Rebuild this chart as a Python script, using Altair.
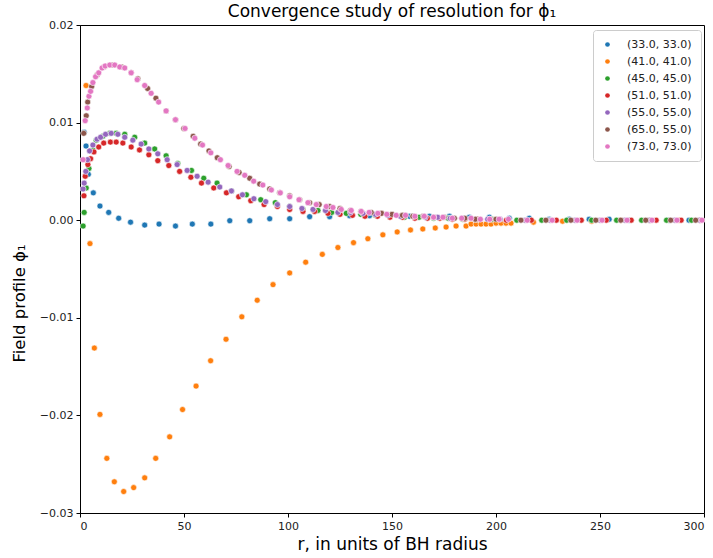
import altair as alt
import pandas as pd

# ---- data ----
series_names = ["(33.0, 33.0)", "(41.0, 41.0)", "(45.0, 45.0)", "(51.0, 51.0)",
                "(55.0, 55.0)", "(65.0, 55.0)", "(73.0, 73.0)"]
series_colors = ["#1f77b4", "#ff7f0e", "#2ca02c", "#d62728", "#9467bd", "#8c564b", "#e377c2"]

r_33 = [2.0, 2.9, 4.0, 6.4, 9.6, 13.8, 18.6, 24.3, 31.1, 38.0, 45.9, 54.0, 62.9, 72.0, 81.6, 91.2,
        100.8, 110.4, 120.0, 129.6, 139.2, 148.8, 158.4, 168.0, 177.6, 187.2, 196.8, 206.4, 216.0,
        225.6, 235.2, 244.8, 254.4, 264.0, 273.6, 283.2, 292.8]
v_33 = [0.0090, 0.0076, 0.0047, 0.0028, 0.00145, 0.0008, 0.0002, -0.0002, -0.0005, -0.0004, -0.0006,
        -0.0004, -0.0004, -0.00005, -0.00005, 0.00015, 0.00015, 0.00036, 0.00036, 0.00046, 0.00046,
        0.0004, 0.0004, 0.0004, 0.0004, 0.0003, 0.0003, 0.0002, 0.0002, 0.0001, 0.0001, 0.0001,
        0.0001, 0.0, 0.0, 0.0, 0.0]

r_41 = [2.9, 4.8, 6.9, 9.6, 12.9, 16.5, 21.0, 25.8, 31.1, 36.4, 43.1, 49.3, 55.8, 62.8, 70.2, 77.8,
        85.2, 92.8, 100.8, 108.5, 116.5, 124.0, 131.5, 138.4, 145.6, 152.5, 158.9, 164.8, 170.8,
        176.0, 180.8, 185.6, 188.0, 190.4, 192.8, 195.2, 197.6, 200.0, 202.4, 204.8, 207.2, 218.0,
        232.0, 246.0, 260.0, 274.0, 288.0]
v_41 = [0.0138, -0.0024, -0.0131, -0.0199, -0.0244, -0.0268, -0.0278, -0.0274, -0.0264, -0.0244,
        -0.0222, -0.0194, -0.0170, -0.0144, -0.0122, -0.0099, -0.0082, -0.0066, -0.0054, -0.0043,
        -0.0035, -0.0028, -0.0023, -0.0019, -0.0015, -0.0012, -0.0010, -0.0009, -0.0008, -0.0007,
        -0.0006, -0.0006, -0.0004, -0.0004, -0.0004, -0.0004, -0.0004, -0.0003, -0.0003, -0.0003,
        -0.0003, -0.0002, -0.0001, -0.0001, 0.0, 0.0, 0.0]

r_45 = [1.5, 2.0, 3.0, 4.3, 6.2, 7.8, 11.0, 14.3, 17.4, 21.5, 26.3, 31.1, 35.9, 41.4, 47.0, 53.6,
        59.5, 65.9, 72.8, 80.0, 86.9, 93.9, 100.8, 107.2, 114.4, 121.0, 128.0, 135.0, 142.0, 149.0,
        156.0, 163.0, 170.0, 177.0, 184.0, 191.0, 198.0, 210.0, 222.0, 234.0, 246.0, 258.0, 270.0,
        282.0, 294.0]
v_45 = [-0.0006, 0.0008, 0.0033, 0.0053, 0.0072, 0.0082, 0.0086, 0.0089, 0.0089, 0.0088, 0.0085,
        0.0079, 0.0073, 0.0066, 0.0058, 0.0051, 0.0043, 0.0038, 0.0030, 0.0026, 0.0021, 0.0018,
        0.0014, 0.0011, 0.0010, 0.0008, 0.0007, 0.0006, 0.0005, 0.0004, 0.0003, 0.0003, 0.0002,
        0.0002, 0.0001, 0.0001, 0.0001, 0.0, 0.0, 0.0, 0.0, 0.0, 0.0, 0.0, 0.0]

r_51 = [1.9, 2.5, 3.8, 5.1, 6.7, 9.0, 11.4, 14.6, 17.4, 20.6, 24.6, 28.6, 33.1, 37.4, 42.7, 47.9,
        53.3, 58.4, 64.3, 70.4, 76.3, 82.1, 88.5, 94.9, 100.8, 107.2, 112.8, 119.2, 125.0, 131.0,
        137.0, 143.0, 149.0, 155.0, 161.0, 167.0, 173.0, 179.0, 185.0, 191.0, 197.0, 205.0, 217.0,
        229.0, 241.0, 253.0, 265.0, 277.0, 289.0, 298.0]
v_51 = [0.0025, 0.0045, 0.0057, 0.0063, 0.0070, 0.0075, 0.0079, 0.0080, 0.0080, 0.0079, 0.0075,
        0.0072, 0.0067, 0.0061, 0.0056, 0.0050, 0.0044, 0.0038, 0.0033, 0.0028, 0.0024, 0.0020,
        0.0016, 0.0014, 0.0011, 0.0009, 0.0009, 0.0007, 0.0006, 0.0005, 0.0004, 0.0004, 0.0003,
        0.0003, 0.0002, 0.0002, 0.0002, 0.0001, 0.0001, 0.0001, 0.0001, 0.0, 0.0, 0.0, 0.0, 0.0,
        0.0, 0.0, 0.0, 0.0]

r_55 = [1.5, 2.0, 2.8, 3.6, 4.6, 6.2, 8.2, 9.9, 12.3, 15.0, 18.2, 21.5, 25.4, 29.4, 33.1, 37.4,
        41.9, 46.7, 51.5, 56.3, 61.6, 67.2, 72.8, 78.1, 83.6, 89.3, 94.9, 100.8, 106.7, 112.0, 118.0,
        124.0, 130.0, 136.0, 142.0, 148.0, 154.0, 160.0, 166.0, 172.0, 178.0, 184.0, 190.0, 196.0,
        202.0, 214.0, 226.0, 238.0, 250.0, 262.0, 274.0, 286.0, 298.0]
v_55 = [0.0032, 0.0038, 0.0050, 0.0062, 0.0071, 0.0077, 0.0083, 0.0085, 0.0088, 0.0089, 0.0088,
        0.0085, 0.0082, 0.0078, 0.0073, 0.0068, 0.0062, 0.0057, 0.0051, 0.0045, 0.0039, 0.0034,
        0.0030, 0.0026, 0.0022, 0.0019, 0.0016, 0.0014, 0.0012, 0.0011, 0.0010, 0.0008, 0.0008,
        0.0007, 0.0006, 0.0005, 0.0004, 0.0004, 0.0003, 0.0003, 0.0002, 0.0002, 0.0001, 0.0001,
        0.0001, 0.0, 0.0, 0.0, 0.0, 0.0, 0.0, 0.0, 0.0]

r_65 = [1.8, 3.0, 3.7, 5.6, 8.3, 11.5, 15.3, 20.0, 24.6, 27.8, 32.5, 36.5, 41.4, 45.9, 49.9, 54.4,
        58.0, 62.0, 66.0, 71.7, 76.5, 81.6, 86.4, 91.2, 96.0, 100.8, 105.6, 110.4, 115.0, 120.0,
        125.0, 130.0, 135.0, 140.0, 145.0, 150.0, 155.0, 160.0, 165.0, 170.0, 175.0, 180.0, 185.0,
        190.0, 200.0, 212.0, 224.0, 236.0, 248.0, 260.0, 272.0, 284.0, 296.0]
v_65 = [0.0089, 0.0107, 0.0121, 0.0137, 0.0149, 0.0157, 0.0159, 0.0157, 0.0151, 0.0145, 0.0135,
        0.0125, 0.0112, 0.0103, 0.0094, 0.0086, 0.0078, 0.0071, 0.0064, 0.0055, 0.0049, 0.0043,
        0.0037, 0.0032, 0.0028, 0.0025, 0.0021, 0.0018, 0.0016, 0.0014, 0.0012, 0.0010, 0.0009,
        0.0008, 0.0007, 0.0006, 0.0005, 0.0004, 0.0004, 0.0003, 0.0003, 0.0002, 0.0002, 0.0001,
        0.0001, 0.0, 0.0, 0.0, 0.0, 0.0, 0.0, 0.0, 0.0]

r_73 = [1.5, 2.5, 3.5, 4.3, 5.1, 6.2, 7.5, 9.0, 10.6, 12.1, 14.3, 16.7, 19.1, 21.5, 24.6, 27.5,
        31.1, 34.2, 37.8, 41.4, 45.9, 50.5, 55.2, 58.9, 62.9, 67.5, 71.2, 75.5, 79.2, 83.5, 87.9,
        92.0, 96.3, 100.8, 105.3, 109.6, 113.6, 118.4, 121.6, 125.6, 130.4, 135.2, 139.0, 143.2,
        147.5, 152.0, 156.5, 161.0, 165.5, 170.0, 174.5, 179.0, 183.5, 188.0, 192.5, 197.0, 201.5,
        206.0, 215.0, 227.0, 239.0, 251.0, 263.0, 275.0, 287.0, 299.0]
v_73 = [0.0062, 0.0102, 0.0115, 0.0127, 0.0132, 0.0141, 0.0147, 0.0151, 0.0156, 0.0158, 0.0159,
        0.0159, 0.0157, 0.0156, 0.0151, 0.0144, 0.0138, 0.0130, 0.0121, 0.0112, 0.0103, 0.0094,
        0.0084, 0.0077, 0.0069, 0.0062, 0.0056, 0.0050, 0.0046, 0.0040, 0.0036, 0.0031, 0.0028,
        0.0024, 0.0021, 0.0018, 0.0016, 0.0014, 0.0013, 0.0011, 0.0010, 0.0009, 0.0008, 0.0007,
        0.0006, 0.0005, 0.0005, 0.0004, 0.0004, 0.0003, 0.0003, 0.0002, 0.0002, 0.0002, 0.0001,
        0.0001, 0.0001, 0.0001, 0.0, 0.0, 0.0, 0.0, 0.0, 0.0, 0.0, 0.0]

x_ticks = [0, 50, 100, 150, 200, 250, 300]
y_ticks = [-0.03, -0.02, -0.01, 0.0, 0.01, 0.02]

# ---- build table ----
all_r = [r_33, r_41, r_45, r_51, r_55, r_65, r_73]
all_v = [v_33, v_41, v_45, v_51, v_55, v_65, v_73]
rows = []
for i, (name, rs, vs) in enumerate(zip(series_names, all_r, all_v)):
    for r, v in zip(rs, vs):
        rows.append({"r": r, "phi": v, "series": name, "order": i})
df = pd.DataFrame(rows)

FONT = "DejaVu Sans"

points = alt.Chart(df).mark_circle(size=36, opacity=1, stroke="white", strokeWidth=0.6).encode(
    x=alt.X("r:Q", title="r, in units of BH radius",
            scale=alt.Scale(domain=[0, 300], nice=False, zero=False),
            axis=alt.Axis(values=x_ticks, format="d", grid=False, titleFontSize=17)),
    y=alt.Y("phi:Q", title="Field profile ϕ₁",
            scale=alt.Scale(domain=[-0.03, 0.02], nice=False, zero=False),
            axis=alt.Axis(values=y_ticks, format=".2f", grid=False, titleFontSize=16.5,
                          titleY=278)),
    color=alt.Color("series:N", title=None,
                    scale=alt.Scale(domain=series_names, range=series_colors),
                    legend=alt.Legend(orient="none", legendX=513, legendY=5,
                                      symbolType="circle", symbolSize=22, symbolStrokeWidth=0,
                                      labelFontSize=11, labelFont=FONT, labelColor="#222",
                                      labelOffset=14, rowPadding=5, padding=9,
                                      strokeColor="#cccccc", cornerRadius=3,
                                      fillColor="white")),
    order=alt.Order("order:Q"),
)

chart = points.properties(
    width=624, height=488,
    title=alt.TitleParams("Convergence study of resolution for ϕ₁", fontSize=17, font=FONT,
                          fontWeight="normal", color="#000", offset=4, dy=6),
    autosize=alt.AutoSizeParams(type="none"),
    padding={"left": 80, "top": 25, "right": 9, "bottom": 45},
).configure_view(
    stroke="#000", strokeWidth=1
).configure_axis(
    labelFont=FONT, labelFontSize=11, labelColor="#222",
    titleFont=FONT, titleFontWeight="normal", titleColor="#000",
    tickColor="#000", tickSize=4, domainColor="#000", labelPadding=3,
).configure_axisY(titlePadding=12).configure_axisX(titlePadding=5)

chart.save("out.html", embed_options={"renderer": "svg", "actions": False})
